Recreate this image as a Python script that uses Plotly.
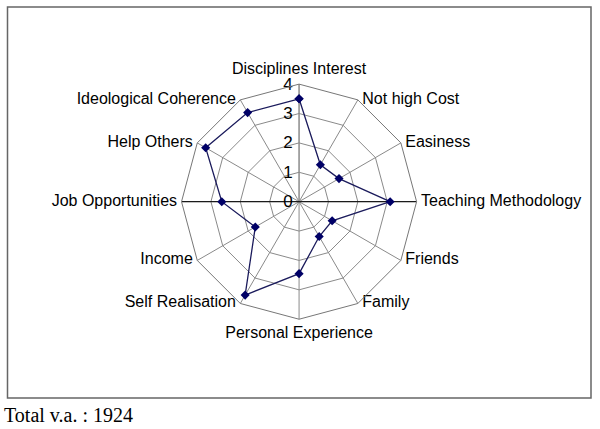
import plotly.graph_objects as go

categories = ["Disciplines Interest", "Not high Cost", "Easiness", "Teaching Methodology",
              "Friends", "Family", "Personal Experience", "Self Realisation", "Income",
              "Job Opportunities", "Help Others", "Ideological Coherence"]
values = [3.5, 1.45, 1.57, 3.1, 1.3, 1.37, 2.45, 3.67, 1.72, 2.63, 3.67, 3.5]
radial_ticks = [0, 1, 2, 3, 4]
axis_max = 4
total_label = "Total v.a. : 1924"

label_positions = ["top center", "middle right", "middle right", "middle right",
                   "middle right", "middle right", "bottom center", "middle left",
                   "middle left", "middle left", "middle left", "middle left"]

NBSP = "\u00a0"
side_theta, side_text, side_pos = [], [], []
vert_theta, vert_text, vert_pos = [], [], []
for cat, pos in zip(categories, label_positions):
    if pos == "middle right":
        side_theta.append(cat); side_text.append(NBSP + cat); side_pos.append(pos)
    elif pos == "middle left":
        side_theta.append(cat); side_text.append(cat + NBSP); side_pos.append(pos)
    else:
        vert_theta.append(cat); vert_text.append(cat); vert_pos.append(pos)

label_font = dict(family="Liberation Sans, Arial", size=16, color="black")

fig = go.Figure()

# black horizontal spoke
fig.add_trace(go.Scatterpolar(
    r=[axis_max, 0, axis_max],
    theta=["Job Opportunities", "Job Opportunities", "Teaching Methodology"],
    mode="lines", line=dict(color="black", width=1), hoverinfo="skip", showlegend=False))

fig.add_trace(go.Scatterpolar(
    r=values + [values[0]],
    theta=categories + [categories[0]],
    mode="lines+markers",
    line=dict(color="#1b1b5c", width=1.3),
    marker=dict(symbol="diamond", size=7, color="#000066"),
    showlegend=False))

# category labels at the outer vertices (sides)
fig.add_trace(go.Scatterpolar(
    r=[axis_max] * len(side_theta), theta=side_theta,
    mode="text", text=side_text, textposition=side_pos, textfont=label_font,
    cliponaxis=False, hoverinfo="skip", showlegend=False))

# top / bottom labels (invisible markers give the text some offset)
fig.add_trace(go.Scatterpolar(
    r=[axis_max] * len(vert_theta), theta=vert_theta,
    mode="markers+text", text=vert_text, textposition=vert_pos, textfont=label_font,
    marker=dict(size=9, opacity=0),
    cliponaxis=False, hoverinfo="skip", showlegend=False))

fig.update_layout(
    width=600, height=429,
    margin=dict(l=0, r=0, t=0, b=0),
    paper_bgcolor="white",
    plot_bgcolor="white",
    font=dict(family="Liberation Sans, Arial", size=16, color="black"),
    polar=dict(
        domain=dict(x=[0.3025, 0.6944], y=[0.2559, 0.8039]),
        gridshape="linear",
        bgcolor="white",
        angularaxis=dict(
            categoryorder="array", categoryarray=categories,
            rotation=90, direction="clockwise",
            showline=True, linecolor="#777777", linewidth=1,
            gridcolor="#8a8a8a", gridwidth=1,
            ticks="", showticklabels=False,
        ),
        radialaxis=dict(
            range=[0, axis_max], tickvals=radial_ticks,
            angle=90, side="counterclockwise", tickangle=90,
            showline=True, linecolor="#8a8a8a", linewidth=1,
            gridcolor="#8a8a8a", gridwidth=1,
            ticks="", tickfont=dict(size=17, color="black"),
            layer="below traces",
        ),
    ),
    shapes=[dict(type="rect", xref="paper", yref="paper",
                 x0=7.5/600, x1=591/600, y0=1-398/429, y1=1-7/429,
                 line=dict(color="#666666", width=1.5), fillcolor="rgba(0,0,0,0)")],
    annotations=[dict(text=total_label, xref="paper", yref="paper",
                      x=2/600, y=1-415/429, xanchor="left", yanchor="middle",
                      showarrow=False,
                      font=dict(family="Liberation Serif, Times New Roman", size=20, color="black"))],
)

fig.write_html("out.html", config={"displayModeBar": False},
               post_script="document.body.style.margin='0';document.body.style.overflow='hidden';")
